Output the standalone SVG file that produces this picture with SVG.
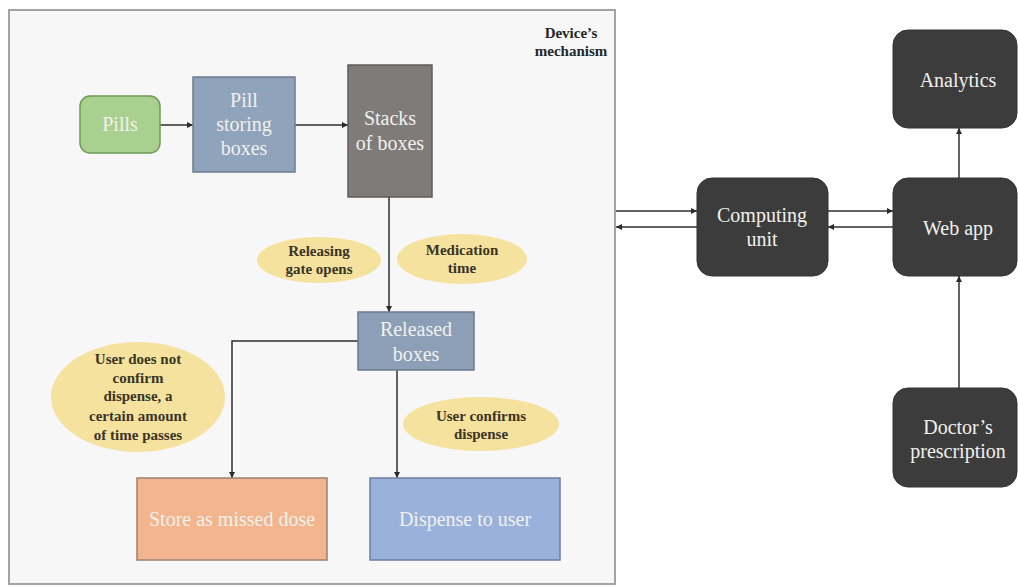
<svg xmlns="http://www.w3.org/2000/svg" width="1018" height="587" viewBox="0 0 1018 587">
  <defs>
    <marker id="arrow" viewBox="0 0 10 10" refX="10" refY="5" markerWidth="6" markerHeight="6" markerUnits="userSpaceOnUse" orient="auto">
      <path d="M0,0 L10,5 L0,10 z" fill="#2b2b2b"/>
    </marker>
    <style>
      .frame { fill: #f7f7f7; stroke: #a3a3a3; stroke-width: 2; }
      .box { stroke-width: 1.5; }
      .dark { fill: #3c3c3c; stroke: #333333; stroke-width: 1; }
      .cond { fill: #f5e29f; stroke: none; }
      text { font-family: 'Liberation Serif', 'DejaVu Serif', serif; }
      .lbl { font-size: 20px; fill: #f1f1ee; text-anchor: middle; }
      .cnd { font-size: 15px; font-weight: bold; fill: #3a3424; text-anchor: middle; }
      .ttl { font-size: 15px; font-weight: bold; fill: #262626; text-anchor: middle; }
      .wire { fill: none; stroke: #2f2f2f; stroke-width: 1.5; }
    </style>
  </defs>

  <rect width="1018" height="587" fill="#ffffff"/>

  <!-- device mechanism frame -->
  <g id="device-frame">
    <rect class="frame" x="9" y="10" width="606" height="574"/>
    <text class="ttl" x="571" y="38">Device’s</text>
    <text class="ttl" x="571" y="56">mechanism</text>
  </g>

  <!-- connectors -->
  <g id="connectors">
    <line class="wire" x1="160" y1="125" x2="193" y2="125" marker-end="url(#arrow)"/>
    <line class="wire" x1="295" y1="125" x2="348" y2="125" marker-end="url(#arrow)"/>
    <line class="wire" x1="389" y1="197" x2="389" y2="312" marker-end="url(#arrow)"/>
    <polyline class="wire" points="358,341 232,341 232,478" marker-end="url(#arrow)"/>
    <line class="wire" x1="397" y1="370" x2="397" y2="478" marker-end="url(#arrow)"/>
    <line class="wire" x1="616" y1="211" x2="697" y2="211" marker-end="url(#arrow)"/>
    <line class="wire" x1="697" y1="227" x2="616" y2="227" marker-end="url(#arrow)"/>
    <line class="wire" x1="828" y1="211" x2="893" y2="211" marker-end="url(#arrow)"/>
    <line class="wire" x1="893" y1="227" x2="828" y2="227" marker-end="url(#arrow)"/>
    <line class="wire" x1="959" y1="178" x2="959" y2="128" marker-end="url(#arrow)"/>
    <line class="wire" x1="959" y1="388" x2="959" y2="276" marker-end="url(#arrow)"/>
  </g>

  <g id="pills">
    <rect class="box" x="80" y="96" width="80" height="57" rx="10" fill="#a9d08e" stroke="#6f9a58"/>
    <text class="lbl" x="120" y="131">Pills</text>
  </g>

  <g id="pill-storing-boxes">
    <rect class="box" x="193" y="77" width="102" height="95" fill="#8fa3bb" stroke="#6d7d93"/>
    <text class="lbl" x="244" y="107">Pill</text>
    <text class="lbl" x="244" y="131">storing</text>
    <text class="lbl" x="244" y="155">boxes</text>
  </g>

  <g id="stacks-of-boxes">
    <rect class="box" x="348" y="65" width="84" height="132" fill="#7f7b79" stroke="#5f5b59"/>
    <text class="lbl" x="390" y="125">Stacks</text>
    <text class="lbl" x="390" y="150">of boxes</text>
  </g>

  <g id="releasing-gate-opens">
    <ellipse class="cond" cx="319" cy="260" rx="62" ry="23"/>
    <text class="cnd" x="319" y="256">Releasing</text>
    <text class="cnd" x="319" y="274">gate opens</text>
  </g>

  <g id="medication-time">
    <ellipse class="cond" cx="462" cy="259" rx="65" ry="25"/>
    <text class="cnd" x="462" y="255">Medication</text>
    <text class="cnd" x="462" y="273">time</text>
  </g>

  <g id="released-boxes">
    <rect class="box" x="358" y="312" width="116" height="58" fill="#8c9fb7" stroke="#6b7b91"/>
    <text class="lbl" x="416" y="336">Released</text>
    <text class="lbl" x="416" y="361">boxes</text>
  </g>

  <g id="user-does-not-confirm">
    <ellipse class="cond" cx="138" cy="397" rx="87" ry="55"/>
    <text class="cnd" x="138" y="364">User does not</text>
    <text class="cnd" x="138" y="383">confirm</text>
    <text class="cnd" x="138" y="401">dispense, a</text>
    <text class="cnd" x="138" y="421">certain amount</text>
    <text class="cnd" x="138" y="440">of time passes</text>
  </g>

  <g id="user-confirms-dispense">
    <ellipse class="cond" cx="481" cy="424" rx="78" ry="27"/>
    <text class="cnd" x="481" y="421">User confirms</text>
    <text class="cnd" x="481" y="439">dispense</text>
  </g>

  <g id="store-missed-dose">
    <rect class="box" x="137" y="478" width="190" height="82" fill="#f2b58d" stroke="#9c8170"/>
    <text class="lbl" x="232" y="526">Store as missed dose</text>
  </g>

  <g id="dispense-to-user">
    <rect class="box" x="370" y="478" width="190" height="82" fill="#9ab1dc" stroke="#6f7e9c"/>
    <text class="lbl" x="465" y="526">Dispense to user</text>
  </g>

  <g id="computing-unit">
    <rect class="dark" x="697" y="178" width="131" height="98" rx="15"/>
    <text class="lbl" x="762" y="222">Computing</text>
    <text class="lbl" x="762" y="246">unit</text>
  </g>

  <g id="web-app">
    <rect class="dark" x="893" y="178" width="124" height="98" rx="15"/>
    <text class="lbl" x="958" y="235">Web app</text>
  </g>

  <g id="analytics">
    <rect class="dark" x="893" y="30" width="124" height="98" rx="15"/>
    <text class="lbl" x="958" y="87">Analytics</text>
  </g>

  <g id="doctors-prescription">
    <rect class="dark" x="893" y="388" width="124" height="99" rx="15"/>
    <text class="lbl" x="958" y="434">Doctor’s</text>
    <text class="lbl" x="958" y="458">prescription</text>
  </g>
</svg>
